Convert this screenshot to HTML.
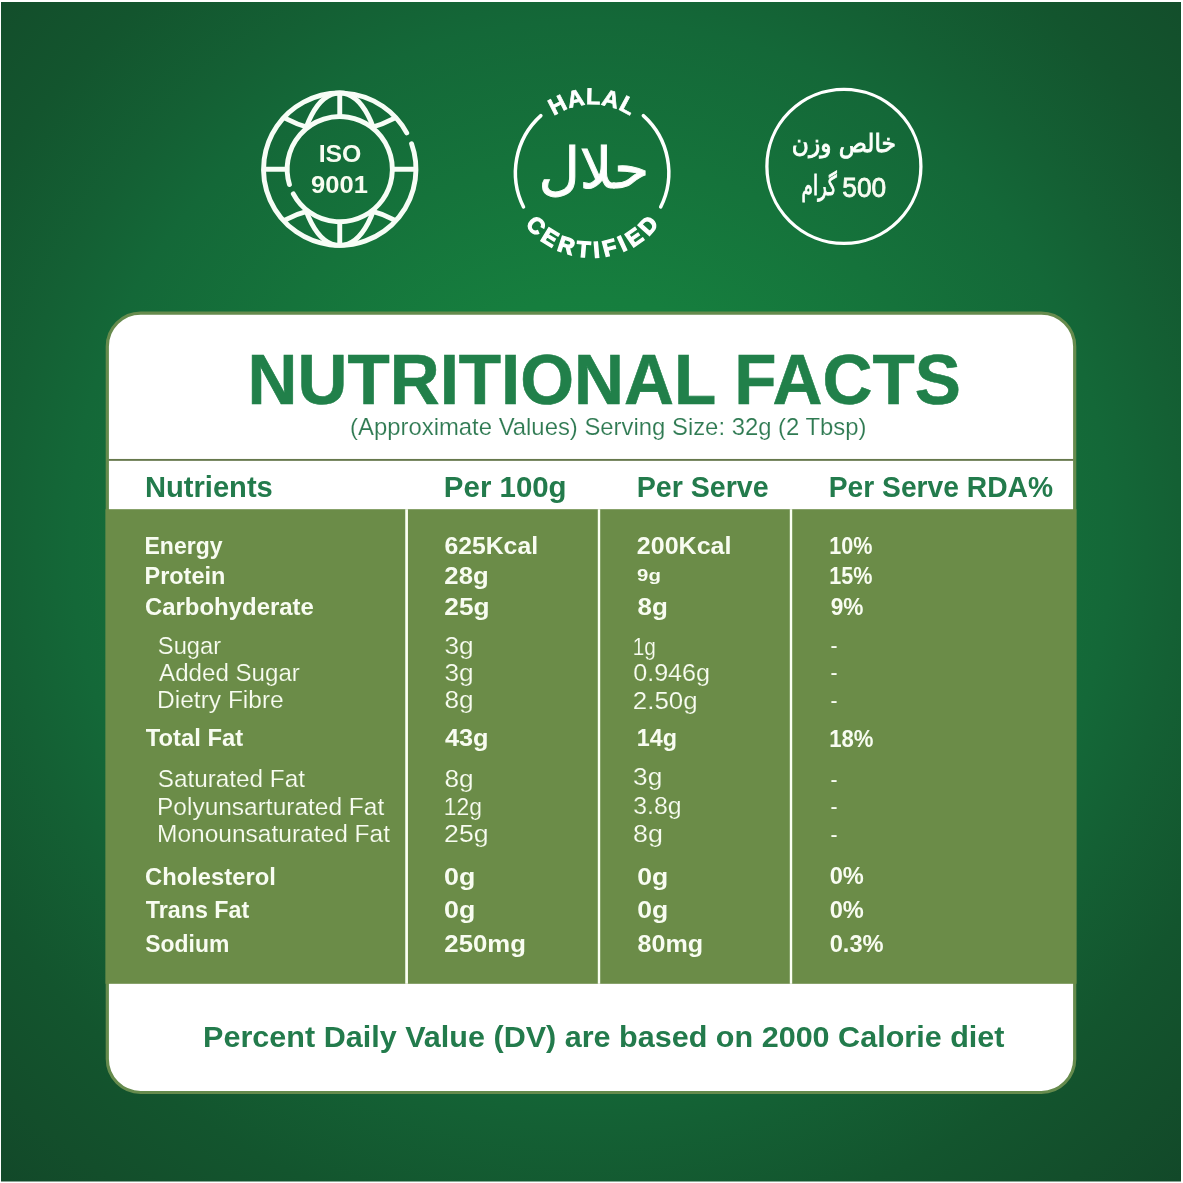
<!DOCTYPE html>
<html lang="en">
<head>
<meta charset="utf-8">
<title>Nutritional Facts</title>
<style>
html,body{margin:0;padding:0;background:#fff;}
body{width:1183px;height:1183px;overflow:hidden;}
svg{display:block;font-family:'Liberation Sans', sans-serif;}
</style>
</head>
<body>
<svg width="1183" height="1183" viewBox="0 0 1183 1183">
<defs>
<radialGradient id="bg" gradientUnits="userSpaceOnUse" cx="591" cy="540" r="880"><stop offset="0" stop-color="#188845"/><stop offset="0.273" stop-color="#167e3e"/><stop offset="0.591" stop-color="#146838"/><stop offset="0.67" stop-color="#146034"/><stop offset="0.795" stop-color="#13552e"/><stop offset="0.909" stop-color="#134e2b"/><stop offset="1" stop-color="#124829"/></radialGradient>
<mask id="gm" maskUnits="userSpaceOnUse" x="250" y="80" width="180" height="180"><rect x="250" y="80" width="180" height="180" fill="#fff"/><circle cx="339.75" cy="169.2" r="52.6" fill="#000"/></mask>
<path id="halalTop" d="M523.80 172.70A68.3 68.3 0 0 1 660.40 172.70"/>
<path id="halalBot" d="M507.30 172.70A84.8 84.8 0 0 0 676.90 172.70"/>
</defs>
<rect x="1" y="2" width="1180" height="1179.5" fill="url(#bg)"/>
<g id="iso" fill="none" stroke="#f7fdf6" stroke-width="4.9" stroke-linecap="round">
<path d="M411.58 143.76A76.2 76.2 0 1 1 406.72 132.84"/>
<path d="M293.31 193.89A52.6 52.6 0 1 0 289.45 184.58"/>
<g mask="url(#gm)" stroke-linecap="butt"><line x1="263.55" y1="169.2" x2="415.95" y2="169.2"/><line x1="339.75" y1="93.00" x2="339.75" y2="245.40"/><ellipse cx="339.75" cy="169.2" rx="40" ry="76.2"/><path d="M283.75 117.70Q339.75 147.2 395.75 117.70"/><path d="M283.75 220.70Q339.75 191.2 395.75 220.70"/></g>
</g>
<text x="318.65" y="161.8" font-size="23.98" font-weight="bold" fill="#f8fcf1" textLength="42.74" lengthAdjust="spacingAndGlyphs">ISO</text>
<text x="311.1" y="192.8" font-size="23.98" font-weight="bold" fill="#f8fcf1" textLength="56.81" lengthAdjust="spacingAndGlyphs">9001</text>
<g id="halal">
<g fill="none" stroke="#fff" stroke-width="3.5" stroke-linecap="round"><path d="M523.52 207.04A76.7 76.7 0 0 1 540.88 115.61"/><path d="M643.32 115.61A76.7 76.7 0 0 1 660.68 207.04"/></g>
<text font-size="23.2" font-weight="bold" fill="#fff" stroke="#fff" stroke-width="0.7" text-anchor="middle" letter-spacing="0.6"><textPath href="#halalTop" startOffset="50%">HALAL</textPath></text>
<text font-size="22.6" font-weight="bold" fill="#fff" stroke="#fff" stroke-width="1.2" text-anchor="middle" letter-spacing="4.4"><textPath href="#halalBot" startOffset="50.9%">CERTIFIED</textPath></text>
<text transform="matrix(1.0182 0 0 1.0077 538.44 187.73)" x="0" y="0" font-family="'DejaVu Sans', sans-serif" font-size="56" font-weight="normal" fill="#fff" stroke="#f7fdf6" stroke-width="1.0">حلال</text>
</g>
<g id="weight">
<circle cx="843.9" cy="166.4" r="77" fill="none" stroke="#fff" stroke-width="3.3"/>
<text transform="matrix(0.9327 0 0 1.0096 791.79 151.74)" x="0" y="0" font-family="'DejaVu Sans', sans-serif" font-size="25" font-weight="normal" fill="#fff" stroke="#f7fdf6" stroke-width="0.9">خالص وزن</text>
<text transform="matrix(0.7338 0 0 1.0850 801.55 194.63)" x="0" y="0" font-family="'DejaVu Sans', sans-serif" font-size="25" font-weight="normal" fill="#fff" stroke="#f7fdf6" stroke-width="0.9">گرام</text>
<text x="842.37" y="196.5" font-size="26.74" font-weight="normal" fill="#f8fcf1" stroke="#f8fcf1" stroke-width="0.8" textLength="43.82" lengthAdjust="spacingAndGlyphs">500</text>
</g>
<g id="card">
<rect x="107.3" y="313.1" width="967.4" height="779.4" rx="33.4" ry="33.4" fill="#fff" stroke="#668b4d" stroke-width="3.2"/>
<rect x="108.5" y="458.95" width="965" height="1.9" fill="#66784c"/>
<rect x="105.5" y="509.2" width="971" height="474.6" fill="#6b8c48"/>
<rect x="405.25" y="509.2" width="2.7" height="474.6" fill="#fbfff4"/>
<rect x="597.80" y="509.2" width="2.4" height="474.6" fill="#fbfff4"/>
<rect x="789.80" y="509.2" width="2.4" height="474.6" fill="#fbfff4"/>
<text x="247.62" y="403.8" font-size="70.2" font-weight="bold" fill="#21804a" stroke="#21804a" stroke-width="0.6" textLength="713.24" lengthAdjust="spacingAndGlyphs">NUTRITIONAL FACTS</text>
<text x="350.12" y="434.88" font-size="23.76" font-weight="normal" fill="#2f7a52" stroke="#fff" stroke-width="0.15" textLength="516.42" lengthAdjust="spacingAndGlyphs">(Approximate Values) Serving Size: 32g (2 Tbsp)</text>
<text x="144.92" y="497.4" font-size="29.36" font-weight="bold" fill="#237b4c" textLength="127.9" lengthAdjust="spacingAndGlyphs">Nutrients</text>
<text x="443.89" y="497.4" font-size="29.36" font-weight="bold" fill="#237b4c" textLength="122.73" lengthAdjust="spacingAndGlyphs">Per 100g</text>
<text x="636.65" y="497.4" font-size="29.36" font-weight="bold" fill="#237b4c" textLength="132.02" lengthAdjust="spacingAndGlyphs">Per Serve</text>
<text x="828.78" y="497.4" font-size="29.36" font-weight="bold" fill="#237b4c" textLength="224.25" lengthAdjust="spacingAndGlyphs">Per Serve RDA%</text>
<text x="144.52" y="553.5" font-size="23.26" font-weight="bold" fill="#f8fcf1" textLength="77.96" lengthAdjust="spacingAndGlyphs">Energy</text>
<text x="144.49" y="584.2" font-size="23.26" font-weight="bold" fill="#f8fcf1" textLength="80.87" lengthAdjust="spacingAndGlyphs">Protein</text>
<text x="144.97" y="615.0" font-size="23.26" font-weight="bold" fill="#f8fcf1" textLength="168.9" lengthAdjust="spacingAndGlyphs">Carbohyderate</text>
<text x="145.74" y="746.3" font-size="23.26" font-weight="bold" fill="#f8fcf1" textLength="97.37" lengthAdjust="spacingAndGlyphs">Total Fat</text>
<text x="144.98" y="885.0" font-size="23.26" font-weight="bold" fill="#f8fcf1" textLength="130.82" lengthAdjust="spacingAndGlyphs">Cholesterol</text>
<text x="145.75" y="918.4" font-size="23.26" font-weight="bold" fill="#f8fcf1" textLength="103.43" lengthAdjust="spacingAndGlyphs">Trans Fat</text>
<text x="145.26" y="951.8" font-size="23.26" font-weight="bold" fill="#f8fcf1" textLength="84.02" lengthAdjust="spacingAndGlyphs">Sodium</text>
<text x="157.86" y="653.88" font-size="23.47" font-weight="normal" fill="#f8fcf1" stroke="#6b8c48" stroke-width="0.15" textLength="63.31" lengthAdjust="spacingAndGlyphs">Sugar</text>
<text x="159.12" y="680.98" font-size="23.47" font-weight="normal" fill="#f8fcf1" stroke="#6b8c48" stroke-width="0.15" textLength="140.72" lengthAdjust="spacingAndGlyphs">Added Sugar</text>
<text x="157.04" y="707.78" font-size="23.47" font-weight="normal" fill="#f8fcf1" stroke="#6b8c48" stroke-width="0.15" textLength="126.72" lengthAdjust="spacingAndGlyphs">Dietry Fibre</text>
<text x="157.83" y="787.28" font-size="23.47" font-weight="normal" fill="#f8fcf1" stroke="#6b8c48" stroke-width="0.15" textLength="147.05" lengthAdjust="spacingAndGlyphs">Saturated Fat</text>
<text x="157.04" y="814.68" font-size="23.47" font-weight="normal" fill="#f8fcf1" stroke="#6b8c48" stroke-width="0.15" textLength="227.15" lengthAdjust="spacingAndGlyphs">Polyunsarturated Fat</text>
<text x="157.04" y="841.68" font-size="23.47" font-weight="normal" fill="#f8fcf1" stroke="#6b8c48" stroke-width="0.15" textLength="232.94" lengthAdjust="spacingAndGlyphs">Monounsaturated Fat</text>
<text x="444.4" y="553.7" font-size="23.26" font-weight="bold" fill="#f8fcf1" textLength="93.66" lengthAdjust="spacingAndGlyphs">625Kcal</text>
<text x="444.37" y="584.2" font-size="23.26" font-weight="bold" fill="#f8fcf1" textLength="44.27" lengthAdjust="spacingAndGlyphs">28g</text>
<text x="444.35" y="615.0" font-size="23.26" font-weight="bold" fill="#f8fcf1" textLength="45.33" lengthAdjust="spacingAndGlyphs">25g</text>
<text x="444.93" y="746.3" font-size="23.26" font-weight="bold" fill="#f8fcf1" textLength="43.69" lengthAdjust="spacingAndGlyphs">43g</text>
<text x="444.05" y="884.5" font-size="23.26" font-weight="bold" fill="#f8fcf1" textLength="31.24" lengthAdjust="spacingAndGlyphs">0g</text>
<text x="444.05" y="918.3" font-size="23.26" font-weight="bold" fill="#f8fcf1" textLength="31.24" lengthAdjust="spacingAndGlyphs">0g</text>
<text x="444.37" y="952.0" font-size="23.26" font-weight="bold" fill="#f8fcf1" textLength="81.58" lengthAdjust="spacingAndGlyphs">250mg</text>
<text x="444.41" y="653.88" font-size="23.47" font-weight="normal" fill="#f8fcf1" stroke="#6b8c48" stroke-width="0.15" textLength="29.16" lengthAdjust="spacingAndGlyphs">3g</text>
<text x="444.41" y="680.98" font-size="23.47" font-weight="normal" fill="#f8fcf1" stroke="#6b8c48" stroke-width="0.15" textLength="29.16" lengthAdjust="spacingAndGlyphs">3g</text>
<text x="444.41" y="707.78" font-size="23.47" font-weight="normal" fill="#f8fcf1" stroke="#6b8c48" stroke-width="0.15" textLength="29.16" lengthAdjust="spacingAndGlyphs">8g</text>
<text x="444.41" y="787.08" font-size="23.47" font-weight="normal" fill="#f8fcf1" stroke="#6b8c48" stroke-width="0.15" textLength="29.16" lengthAdjust="spacingAndGlyphs">8g</text>
<text x="443.82" y="814.68" font-size="23.47" font-weight="normal" fill="#f8fcf1" stroke="#6b8c48" stroke-width="0.15" textLength="38.14" lengthAdjust="spacingAndGlyphs">12g</text>
<text x="444.11" y="841.68" font-size="23.47" font-weight="normal" fill="#f8fcf1" stroke="#6b8c48" stroke-width="0.15" textLength="44.48" lengthAdjust="spacingAndGlyphs">25g</text>
<text x="636.89" y="553.7" font-size="23.26" font-weight="bold" fill="#f8fcf1" textLength="94.59" lengthAdjust="spacingAndGlyphs">200Kcal</text>
<text x="637.11" y="580.7" font-size="17.15" font-weight="bold" fill="#f8fcf1" textLength="23.8" lengthAdjust="spacingAndGlyphs">9g</text>
<text x="637.56" y="615.0" font-size="23.26" font-weight="bold" fill="#f8fcf1" textLength="30.38" lengthAdjust="spacingAndGlyphs">8g</text>
<text x="636.89" y="746.1" font-size="23.26" font-weight="bold" fill="#f8fcf1" textLength="40.29" lengthAdjust="spacingAndGlyphs">14g</text>
<text x="637.26" y="884.5" font-size="23.26" font-weight="bold" fill="#f8fcf1" textLength="31.02" lengthAdjust="spacingAndGlyphs">0g</text>
<text x="637.26" y="918.3" font-size="23.26" font-weight="bold" fill="#f8fcf1" textLength="31.02" lengthAdjust="spacingAndGlyphs">0g</text>
<text x="637.59" y="952.0" font-size="23.26" font-weight="bold" fill="#f8fcf1" textLength="65.63" lengthAdjust="spacingAndGlyphs">80mg</text>
<text x="632.67" y="654.88" font-size="23.47" font-weight="normal" fill="#f8fcf1" stroke="#6b8c48" stroke-width="0.15" textLength="23.13" lengthAdjust="spacingAndGlyphs">1g</text>
<text x="633.15" y="681.28" font-size="23.47" font-weight="normal" fill="#f8fcf1" stroke="#6b8c48" stroke-width="0.15" textLength="76.98" lengthAdjust="spacingAndGlyphs">0.946g</text>
<text x="632.85" y="708.68" font-size="23.47" font-weight="normal" fill="#f8fcf1" stroke="#6b8c48" stroke-width="0.15" textLength="64.77" lengthAdjust="spacingAndGlyphs">2.50g</text>
<text x="633.11" y="785.08" font-size="23.47" font-weight="normal" fill="#f8fcf1" stroke="#6b8c48" stroke-width="0.15" textLength="29.16" lengthAdjust="spacingAndGlyphs">3g</text>
<text x="633.16" y="814.48" font-size="23.47" font-weight="normal" fill="#f8fcf1" stroke="#6b8c48" stroke-width="0.15" textLength="48.43" lengthAdjust="spacingAndGlyphs">3.8g</text>
<text x="633.08" y="841.68" font-size="23.47" font-weight="normal" fill="#f8fcf1" stroke="#6b8c48" stroke-width="0.15" textLength="29.83" lengthAdjust="spacingAndGlyphs">8g</text>
<text x="829.31" y="553.7" font-size="23.26" font-weight="bold" fill="#f8fcf1" textLength="43.2" lengthAdjust="spacingAndGlyphs">10%</text>
<text x="829.31" y="584.2" font-size="23.26" font-weight="bold" fill="#f8fcf1" textLength="43.2" lengthAdjust="spacingAndGlyphs">15%</text>
<text x="830.67" y="615.0" font-size="23.26" font-weight="bold" fill="#f8fcf1" textLength="32.72" lengthAdjust="spacingAndGlyphs">9%</text>
<text x="829.27" y="746.8" font-size="23.26" font-weight="bold" fill="#f8fcf1" textLength="44.25" lengthAdjust="spacingAndGlyphs">18%</text>
<text x="829.68" y="884.4" font-size="23.26" font-weight="bold" fill="#f8fcf1" textLength="34.13" lengthAdjust="spacingAndGlyphs">0%</text>
<text x="829.68" y="918.2" font-size="23.26" font-weight="bold" fill="#f8fcf1" textLength="34.13" lengthAdjust="spacingAndGlyphs">0%</text>
<text x="829.68" y="952.0" font-size="23.26" font-weight="bold" fill="#f8fcf1" textLength="53.93" lengthAdjust="spacingAndGlyphs">0.3%</text>
<text x="830.5" y="653.12" font-size="23.26" font-weight="normal" fill="#f8fcf1" textLength="7.01" lengthAdjust="spacingAndGlyphs">-</text>
<text x="830.5" y="680.23" font-size="23.26" font-weight="normal" fill="#f8fcf1" textLength="7.01" lengthAdjust="spacingAndGlyphs">-</text>
<text x="830.5" y="708.33" font-size="23.26" font-weight="normal" fill="#f8fcf1" textLength="7.01" lengthAdjust="spacingAndGlyphs">-</text>
<text x="830.5" y="787.42" font-size="23.26" font-weight="normal" fill="#f8fcf1" textLength="7.01" lengthAdjust="spacingAndGlyphs">-</text>
<text x="830.5" y="814.42" font-size="23.26" font-weight="normal" fill="#f8fcf1" textLength="7.01" lengthAdjust="spacingAndGlyphs">-</text>
<text x="830.5" y="841.52" font-size="23.26" font-weight="normal" fill="#f8fcf1" textLength="7.01" lengthAdjust="spacingAndGlyphs">-</text>
<text x="203.12" y="1046.6" font-size="29.36" font-weight="bold" fill="#237b4c" textLength="801.34" lengthAdjust="spacingAndGlyphs">Percent Daily Value (DV) are based on 2000 Calorie diet</text>
</g>
</svg>
</body>
</html>
